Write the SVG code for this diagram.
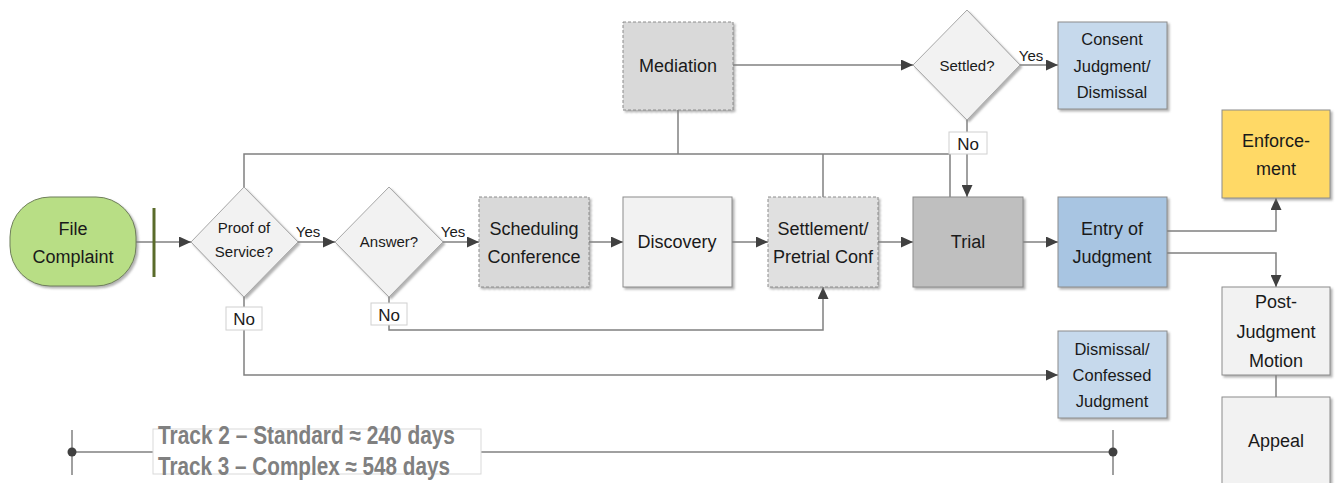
<svg xmlns="http://www.w3.org/2000/svg" width="1338" height="483" viewBox="0 0 1338 483">
<defs>
<filter id="sh" x="-10%" y="-10%" width="130%" height="130%">
<feDropShadow dx="2" dy="2" stdDeviation="1" flood-color="#808080" flood-opacity="0.6"/>
</filter>
<marker id="ar" markerUnits="userSpaceOnUse" markerWidth="12" markerHeight="11" refX="12" refY="5.5" orient="auto">
<path d="M0,0 L12,5.5 L0,11 z" fill="#404040"/>
</marker>
</defs>
<style>
text{font-family:"Liberation Sans",Arial,sans-serif;fill:#1a1a1a;text-anchor:middle}
.t18{font-size:18px}
.t16{font-size:16.5px}
.t15{font-size:15px}
.no{font-size:17px}
.box{stroke:#8c8c8c;stroke-width:1;filter:url(#sh)}
.dash{stroke-dasharray:3,2}
.dia{fill:#f2f2f2;stroke:#a6a6a6;stroke-width:1;filter:url(#sh)}
.lbl{fill:#fff;stroke:#d0d0d0;stroke-width:1}
.c{fill:none;stroke:#808080;stroke-width:1.5}
.trk{font-size:25px;font-weight:bold;fill:#808080;text-anchor:start}
</style>

<g id="connectors">
<path class="c" d="M136,242 H191" marker-end="url(#ar)"/>
<path class="c" d="M298,242 H335" marker-end="url(#ar)"/>
<path class="c" d="M443,242 H479" marker-end="url(#ar)"/>
<path class="c" d="M589,242 H623" marker-end="url(#ar)"/>
<path class="c" d="M732,242 H768" marker-end="url(#ar)"/>
<path class="c" d="M878,242 H913" marker-end="url(#ar)"/>
<path class="c" d="M1023,242 H1058" marker-end="url(#ar)"/>
<path class="c" d="M1167,231 H1276 V198" marker-end="url(#ar)"/>
<path class="c" d="M1167,253 H1276 V287" marker-end="url(#ar)"/>
<path class="c" d="M1276,375 V397"/>
<path class="c" d="M244,297 V375 H1058" marker-end="url(#ar)"/>
<path class="c" d="M389,297 V330 H823 V287" marker-end="url(#ar)"/>
<path class="c" d="M733,65 H913" marker-end="url(#ar)"/>
<path class="c" d="M1020,65 H1058" marker-end="url(#ar)"/>
<path class="c" d="M967,120 V197" marker-end="url(#ar)"/>
<path class="c" d="M244,187 V154 H950 V197"/>
<path class="c" d="M678,110 V154"/>
<path class="c" d="M823,197 V154"/>
<text class="t15" x="308" y="237">Yes</text>
<text class="t15" x="453" y="237">Yes</text>
<text class="t15" x="1031" y="61">Yes</text>
<rect class="lbl" x="226" y="307" width="36" height="23"/>
<text class="no" x="244" y="325">No</text>
<rect class="lbl" x="371" y="303" width="36" height="22"/>
<text class="no" x="389" y="321">No</text>
<rect class="lbl" x="949" y="132" width="38" height="22"/>
<text class="no" x="968" y="150">No</text>
</g>

<g id="file-complaint">
<rect x="10" y="197" width="126" height="89" rx="40" ry="40" fill="#b8de85" stroke="#6f7f5a" stroke-width="1" filter="url(#sh)"/>
<text class="t18" x="73" y="235">File</text>
<text class="t18" x="73" y="263">Complaint</text>
</g>
<g id="start-bar">
<line x1="154" y1="208" x2="154" y2="277" stroke="#5a6b2a" stroke-width="3"/>
</g>

<g id="proof-of-service">
<polygon class="dia" points="244,187 298,242 244,297 191,242"/>
<text class="t15" x="244" y="233">Proof of</text>
<text class="t15" x="244" y="257">Service?</text>
</g>

<g id="answer">
<polygon class="dia" points="389,187 443,242 389,297 335,242"/>
<text class="t15" x="389" y="247">Answer?</text>
</g>

<g id="scheduling-conference">
<rect class="box dash" x="479" y="197" width="110" height="90" fill="#d9d9d9"/>
<text class="t18" x="534" y="235">Scheduling</text>
<text class="t18" x="534" y="263">Conference</text>
</g>

<g id="discovery">
<rect class="box" x="623" y="197" width="109" height="90" fill="#f2f2f2"/>
<text class="t18" x="677" y="248">Discovery</text>
</g>

<g id="settlement">
<rect class="box dash" x="768" y="197" width="110" height="90" fill="#e0e0e0"/>
<text class="t18" x="823" y="235">Settlement/</text>
<text class="t18" x="823" y="263">Pretrial Conf</text>
</g>

<g id="trial">
<rect class="box" x="913" y="197" width="110" height="90" fill="#bfbfbf" stroke="#7a7a7a"/>
<text class="t18" x="968" y="248">Trial</text>
</g>

<g id="entry-of-judgment">
<rect class="box" x="1058" y="197" width="109" height="90" fill="#a8c5e2" stroke="#7f8c99"/>
<text class="t18" x="1112" y="235">Entry of</text>
<text class="t18" x="1112" y="263">Judgment</text>
</g>

<g id="mediation">
<rect class="box dash" x="623" y="22" width="110" height="88" fill="#d9d9d9"/>
<text class="t18" x="678" y="72">Mediation</text>
</g>

<g id="settled">
<polygon class="dia" points="967,10 1020,65 967,120 913,65"/>
<text class="t15" x="967" y="71">Settled?</text>
</g>

<g id="consent-judgment">
<rect class="box" x="1058" y="22" width="109" height="87" fill="#c6d9ec" stroke="#8c96a0"/>
<text class="t16" x="1112" y="45">Consent</text>
<text class="t16" x="1112" y="71.5">Judgment/</text>
<text class="t16" x="1112" y="98">Dismissal</text>
</g>

<g id="enforcement">
<rect class="box" x="1222" y="110" width="108" height="88" fill="#ffd966" stroke="#9a8f6a"/>
<text class="t18" x="1276" y="147">Enforce-</text>
<text class="t18" x="1276" y="175">ment</text>
</g>

<g id="post-judgment-motion">
<rect class="box" x="1222" y="287" width="108" height="88" fill="#f2f2f2"/>
<text class="t18" x="1276" y="308">Post-</text>
<text class="t18" x="1276" y="338">Judgment</text>
<text class="t18" x="1276" y="367">Motion</text>
</g>

<g id="appeal">
<rect class="box" x="1222" y="397" width="108" height="100" fill="#f2f2f2"/>
<text class="t18" x="1276" y="447">Appeal</text>
</g>

<g id="dismissal-confessed">
<rect class="box" x="1058" y="331" width="109" height="87" fill="#c6d9ec" stroke="#8c96a0"/>
<text class="t16" x="1112" y="355">Dismissal/</text>
<text class="t16" x="1112" y="381">Confessed</text>
<text class="t16" x="1112" y="407">Judgment</text>
</g>

<g id="timeline">
<line x1="72" y1="452" x2="1113" y2="452" stroke="#808080" stroke-width="1.5"/>
<line x1="72" y1="430" x2="72" y2="475" stroke="#808080" stroke-width="1.5"/>
<line x1="1113" y1="430" x2="1113" y2="475" stroke="#808080" stroke-width="1.5"/>
<circle cx="72" cy="452" r="4.5" fill="#404040"/>
<circle cx="1113" cy="452" r="4.5" fill="#404040"/>
<rect x="153" y="429" width="328" height="45" fill="#fff" stroke="#d9d9d9" stroke-width="1"/>
<text class="trk" x="158" y="444" textLength="297" lengthAdjust="spacingAndGlyphs">Track 2 – Standard ≈ 240 days</text>
<text class="trk" x="158" y="475" textLength="292" lengthAdjust="spacingAndGlyphs">Track 3 – Complex ≈ 548 days</text>
</g>
</svg>
